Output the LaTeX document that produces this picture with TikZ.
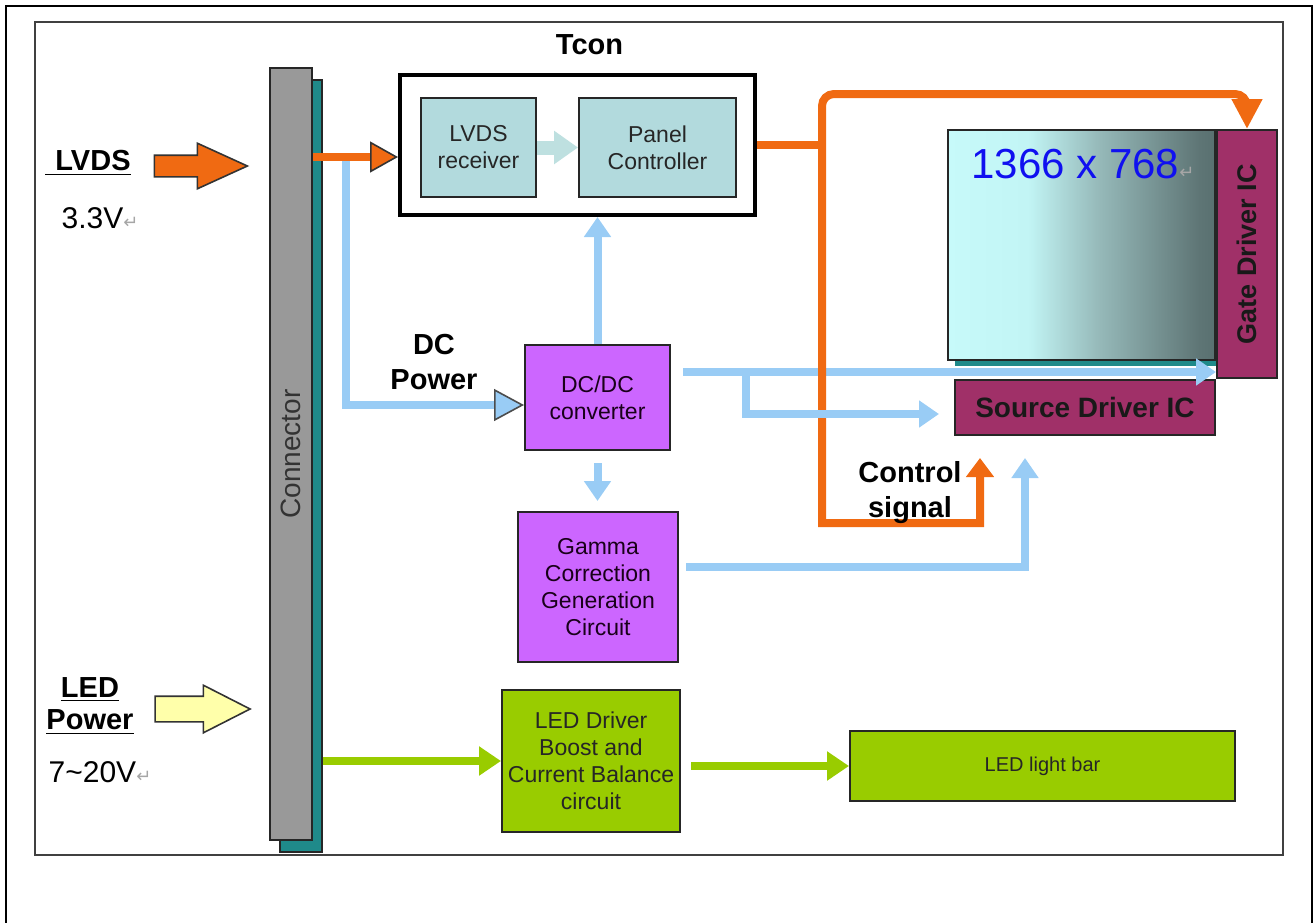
\documentclass[tikz,border=0pt]{standalone}
\usepackage{fontspec}
\setmainfont{Liberation Sans}
\newfontfamily\markfont{DejaVu Sans}
\usetikzlibrary{positioning,arrows.meta,shapes.arrows,shadows}

\definecolor{lvdsorange}{HTML}{F06A12}
\definecolor{dcblue}{HTML}{99CCF5}
\definecolor{ledgreen}{HTML}{99CC00}
\definecolor{violetbox}{HTML}{CC66FF}
\definecolor{icmaroon}{HTML}{A03068}
\definecolor{rxteal}{HTML}{B2DADD}
\definecolor{rxarrow}{HTML}{BEE0E0}
\definecolor{conngray}{HTML}{999999}
\definecolor{connteal}{HTML}{1F8A8A}
\definecolor{ledyellow}{HTML}{FFFFAA}
\definecolor{resblue}{HTML}{1010F0}

\pgfdeclarehorizontalshading{panelshade}{100bp}{rgb(0bp)=(0.78,0.98,0.98); rgb(25bp)=(0.78,0.98,0.98); rgb(40bp)=(0.76,0.96,0.96); rgb(53bp)=(0.59,0.73,0.73); rgb(72bp)=(0.37,0.46,0.46); rgb(75bp)=(0.35,0.44,0.44); rgb(100bp)=(0.35,0.44,0.44)}

\newcommand\parmark{{\markfont\color{black!35}\fontsize{9}{9}\selectfont ↵}}

\begin{document}
\begin{tikzpicture}[x=0.5pt, y=-0.5pt,
        block/.style={
            rectangle, draw=black!85, line width=1pt, inner sep=1pt, align=center, text=black!85, font=\fontsize{11.5}{13.5}\selectfont
        },
        rxblock/.style={block, fill=rxteal, minimum width=57.5pt, minimum height=49.5pt},
        powerblock/.style={block, fill=violetbox, text=black!80!violet},
        ledblock/.style={block, fill=ledgreen},
        icblock/.style={block, fill=icmaroon, text=black!90, font=\bfseries\fontsize{14}{16}\selectfont},
        heading/.style={inner sep=0pt, align=center, font=\bfseries\fontsize{14.5}{17.5}\selectfont},
        voltage/.style={inner sep=0pt, font=\fontsize{15}{18}\selectfont},
        fatarrow/.style={single arrow, draw=black!80, line width=0.8pt, inner sep=0pt, single arrow head indent=0pt},
        dcline/.style={line width=4pt, draw=dcblue, -{Triangle[width=13pt,length=10pt]}},
        ctrlline/.style={line width=4pt, draw=lvdsorange},
        ledline/.style={line width=4pt, draw=ledgreen, -{Triangle[width=14pt,length=11pt]}},
    ]
        \useasboundingbox (0,0) rectangle (1313,922);
        \draw[black, line width=1pt] (6,935) -- (6,6) -- (1312,6) -- (1312,935);
        \draw[black!75, line width=1pt] (35,22) rectangle (1283,855);

        % left side inputs
        \node[heading] (lvdsLabel) at (88,163) {\underline{\hspace{5pt}LVDS}};
        \node[voltage] (lvdsVolt) at (100,218) {3.3V\parmark};
        \node[fatarrow, fill=lvdsorange, minimum height=46.5pt, single arrow head extend=6pt, single arrow tip angle=49] (lvdsArrow) at (189,166) {\rule{0pt}{10pt}};

        \node[heading, font=\bfseries\fontsize{14.5}{16}\selectfont] (ledLabel) at (90,706) {\underline{LED}\\\underline{Power}};
        \node[voltage] (ledVolt) at (100,772) {7\textasciitilde20V\parmark};
        \node[fatarrow, fill=ledyellow, minimum height=47.5pt, single arrow head extend=5.5pt, single arrow tip angle=54] (ledArrow) at (190,709) {\rule{0pt}{12pt}};

        \node[rectangle, draw=black!85, line width=1pt, fill=conngray, minimum width=21pt, minimum height=386pt, general shadow={shadow xshift=5pt, shadow yshift=-6pt, fill=connteal, draw=black!85}] (conn) at (291,454) {};
        \node[rotate=90, text=black!80, font=\fontsize{14}{16}\selectfont] (connLabel) at (conn.center) {Connector};

        % timing controller
        \node[rectangle, draw=black, line width=2pt, fill=white, minimum width=177.5pt, minimum height=70pt] (tcon) at (577.5,145) {};
        \node[heading, above=9pt of tcon, xshift=6pt] (tconTitle) {Tcon};
        \node[rxblock, anchor=west] (lvdsRx) at ([xshift=11pt, yshift=-1.25pt]tcon.west) {LVDS\\receiver};
        \node[rxblock, minimum width=78.5pt, right=20.5pt of lvdsRx] (panelCtl) {Panel\\Controller};
        \draw[line width=7pt, draw=rxarrow, -{Triangle[width=16pt,length=12pt]}] (lvdsRx.east) -- (panelCtl.west);

        % power and gamma
        \node[powerblock, minimum width=72.5pt, minimum height=52.5pt] (dcConv) at (597.5,397.5) {DC/DC\\converter};
        \node[powerblock, minimum width=80pt, minimum height=75pt, below=30pt of dcConv, xshift=0.25pt] (gammaGen) {Gamma\\Correction\\Generation\\Circuit};
        \node[heading] (dcLabel) at (434,362) {DC\\Power};

        % backlight
        \node[ledblock, minimum width=89pt, minimum height=71pt, below=13pt of gammaGen, xshift=-3.5pt] (ledDriver) {LED Driver\\Boost and\\Current Balance\\circuit};
        \node[ledblock, font=\fontsize{10}{12}\selectfont, minimum width=192.5pt, minimum height=35pt, right=84pt of ledDriver, yshift=-2.5pt] (ledBar) {LED light bar};

        % panel
        \node[rectangle, draw=black!85, line width=1pt, shade, shading=panelshade, minimum width=133.5pt, minimum height=115pt, general shadow={shadow xshift=3.5pt, shadow yshift=-3pt, fill=connteal}] (panel) at (1081.5,245) {};
        \node[anchor=west, inner sep=0pt, text=resblue, font=\fontsize{21}{24}\selectfont] (resLabel) at ([xshift=12pt, yshift=-17.5pt]panel.north west) {1366 x 768\parmark};
        \node[icblock, anchor=north west, minimum width=30pt, minimum height=124pt] (gateDriver) at (panel.north east) {};
        \node[rotate=90, inner sep=0pt, text=black!90, font=\bfseries\fontsize{13.5}{15}\selectfont] (gateLabel) at (gateDriver.center) {Gate Driver IC};
        \node[icblock, anchor=north east, minimum width=130pt, minimum height=27.5pt] (sourceDriver) at (gateDriver.south west) {Source Driver IC};

        % connectors
        \coordinate (lvdsIn) at ([yshift=-6pt]tcon.west);
        \coordinate (lvdsTap) at ([xshift=16.5pt]conn.east |- lvdsIn);
        \draw[dcline, -{Triangle[width=16pt,length=15pt,fill=dcblue,color=black!70,line width=0.8pt]}] (lvdsTap) |- ([yshift=-3.75pt]dcConv.west);
        \draw[ctrlline, -{Triangle[width=15.5pt,length=14pt,fill=lvdsorange,color=black!80,line width=0.8pt]}] (conn.east |- lvdsIn) -- (lvdsIn);

        \draw[dcline] (dcConv.north) -- (dcConv.north |- tcon.south);
        \draw[dcline] ([yshift=-6pt]dcConv.south) -- ([yshift=5pt]dcConv.south |- gammaGen.north);

        \coordinate (dcOut) at ([xshift=6pt, yshift=12.75pt]dcConv.east);
        \coordinate (dcSplit) at ([xshift=31.5pt]dcOut);
        \draw[dcline] (dcOut) -- (gateDriver.west |- dcOut);

        \coordinate (busTap) at ([xshift=32.5pt]tcon.east);
        \coordinate (ctrlIn) at ([xshift=-52.5pt, yshift=-11pt]sourceDriver.south);
        \coordinate (ctrlTurn) at ([yshift=-43.5pt]sourceDriver.south -| busTap);
        \draw[ctrlline] (tcon.east) -- (busTap);
        \draw[ctrlline, {Triangle[width=14.5pt,length=15pt]}-{Triangle[width=13.5pt,length=9.5pt]}, rounded corners=6pt] (gateDriver.north) -- ++(0pt,17.5pt) -| (busTap) [sharp corners] -- (ctrlTurn) -| (ctrlIn);
        \node[heading] (ctrlLabel) at ([xshift=-35pt, yshift=-17.5pt]ctrlIn) {Control\\signal};

        \draw[dcline] (dcSplit) |- ([xshift=-7.5pt, yshift=-3.25pt]sourceDriver.west);
        \coordinate (gammaOut) at ([xshift=3.5pt, yshift=10pt]gammaGen.east);
        \draw[dcline] (gammaOut) -| ([xshift=-30pt, yshift=-11pt]sourceDriver.south);

        \draw[ledline] ([xshift=5pt]conn.east |- ledDriver.west) -- (ledDriver.west);
        \draw[ledline] ([xshift=5pt]ledDriver.east |- ledBar.west) -- (ledBar.west);

    \end{tikzpicture}
\end{document}
